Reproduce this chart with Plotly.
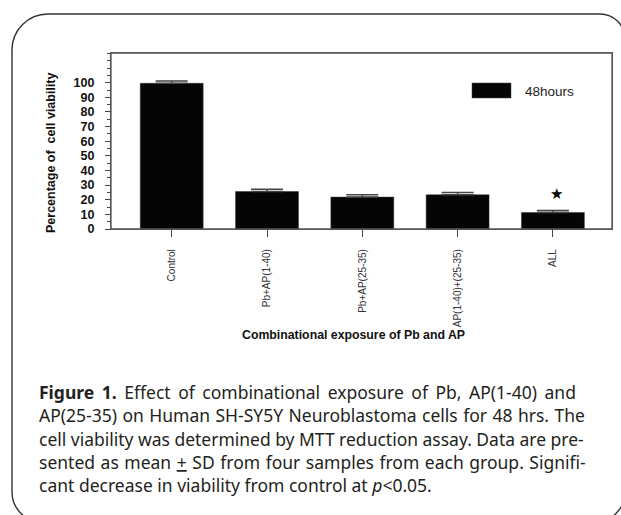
import plotly.graph_objects as go

# ---------------- data ----------------
categories = ["Control", "Pb+AP(1-40)", "Pb+AP(25-35)", "AP(1-40)+(25-35)", "ALL"]
viability = [99.6, 25.6, 21.8, 23.4, 11.3]
sd = [1.5, 1.6, 1.6, 1.6, 1.4]
y_ticks = [0, 10, 20, 30, 40, 50, 60, 70, 80, 90, 100]
series_name = "48hours"
significant = "ALL"
x_title = "Combinational exposure of Pb and AP"
y_title = "Percentage of  cell viability"
caption_lines = [
    "<b>Figure 1.</b> Effect of combinational exposure of Pb, AP(1-40) and",
    "AP(25-35) on Human SH-SY5Y Neuroblastoma cells for 48 hrs. The",
    "cell viability was determined by MTT reduction assay. Data are pre-",
    "sented as mean <u>+</u> SD from four samples from each group. Signifi-",
    "cant decrease in viability from control at <i>p</i>&lt;0.05.",
]
# extra word spacing (px) used to imitate the justified paragraph
caption_word_spacing = [3.0, 0.9, -0.1, 1.0, 0.0]

# ---------------- geometry helpers (pixel -> paper) ----------------
W, H = 621, 515
L, R, T, B = 111, 612, 53, 229


def px(x):
    return (x - L) / (R - L)


def py(y):
    return 1 - (y - T) / (B - T)


def P(x, y):
    return f"{px(x):.5f},{py(y):.5f}"


def rounded_rect(x0, y0, x1, y1, rtl, rtr, rbr, rbl):
    k = 0.5523
    s = f"M {P(x0 + rtl, y0)} L {P(x1 - rtr, y0)} "
    s += f"C {P(x1 - rtr + k * rtr, y0)} {P(x1, y0 + rtr - k * rtr)} {P(x1, y0 + rtr)} "
    s += f"L {P(x1, y1 - rbr)} "
    s += f"C {P(x1, y1 - rbr + k * rbr)} {P(x1 - rbr + k * rbr, y1)} {P(x1 - rbr, y1)} "
    s += f"L {P(x0 + rbl, y1)} "
    s += f"C {P(x0 + rbl - k * rbl, y1)} {P(x0, y1 - rbl + k * rbl)} {P(x0, y1 - rbl)} "
    s += f"L {P(x0, y0 + rtl)} "
    s += f"C {P(x0, y0 + rtl - k * rtl)} {P(x0 + rtl - k * rtl, y0)} {P(x0 + rtl, y0)} Z"
    return s


AX_FONT = "Liberation Sans, Arial, sans-serif"
CAP_FONT = "Noto Sans, Lato, sans-serif"

fig = go.Figure(
    go.Bar(
        x=categories,
        y=viability,
        name=series_name,
        width=0.66,
        marker=dict(color="#050505", line=dict(color="#333333", width=0.5)),
        error_y=dict(
            type="data",
            array=sd,
            arrayminus=[0] * len(sd),
            symmetric=False,
            color="#444444",
            thickness=1.5,
            width=16,
        ),
        showlegend=False,
        hoverinfo="skip",
    )
)

shapes = [
    dict(type="path", xref="paper", yref="paper", path=rounded_rect(12, 14, 625, 522, 36, 25, 30, 30),
         line=dict(color="#333333", width=1.4), fillcolor="rgba(0,0,0,0)", layer="below"),
    # box round the plotting area
    dict(type="rect", xref="paper", yref="paper", x0=0, x1=1, y0=0, y1=1,
         line=dict(color="#555555", width=1.3), fillcolor="rgba(0,0,0,0)", layer="above"),
    # legend swatch
    dict(type="rect", xref="paper", yref="paper", x0=px(472), x1=px(511), y0=py(98), y1=py(83),
         fillcolor="#050505", line=dict(color="#444444", width=0.5)),
]

annotations = [
    dict(text=series_name, xref="paper", yref="paper", x=px(523), y=py(91), xanchor="left", yanchor="middle",
         showarrow=False, font=dict(family=AX_FONT, size=13.5, color="#222222")),
    dict(text="★", xref="x", yref="y", x=significant,
         y=viability[categories.index(significant)] + sd[categories.index(significant)],
         yanchor="middle", yshift=16, xshift=4, showarrow=False,
         font=dict(family="DejaVu Sans", size=15, color="#000000")),
    dict(text=f"<b>{y_title}</b>", xref="paper", yref="paper", x=px(51), y=py(153), textangle=-90,
         xanchor="center", yanchor="middle", showarrow=False, font=dict(family=AX_FONT, size=12.5, color="#111111")),
    dict(text=f"<b>{x_title}</b>", xref="paper", yref="paper", x=px(353), y=py(335),
         xanchor="center", yanchor="middle", showarrow=False, font=dict(family=AX_FONT, size=12.3, color="#111111")),
]

cap_y = [392, 415, 439, 462, 485]
for line, yc, ws in zip(caption_lines, cap_y, caption_word_spacing):
    annotations.append(dict(text=f'<span style="word-spacing:{ws}px">{line}</span>',
                            xref="paper", yref="paper", x=px(37), y=py(yc), xanchor="left",
                            yanchor="middle", showarrow=False,
                            font=dict(family=CAP_FONT, size=17.5, color="#231f20")))

fig.update_layout(
    width=W,
    height=H,
    margin=dict(l=L, r=W - R, t=T, b=H - B, pad=0),
    paper_bgcolor="white",
    plot_bgcolor="white",
    shapes=shapes,
    annotations=annotations,
    xaxis=dict(
        type="category",
        range=[-0.637, 4.62],
        showline=True,
        linecolor="#555555",
        linewidth=1.3,
        mirror=True,
        ticks="outside",
        ticklen=7,
        tickwidth=1.3,
        tickcolor="#444444",
        tickangle=-90,
        ticklabelstandoff=8,
        tickfont=dict(family=AX_FONT, size=10, color="#333333"),
        showgrid=False,
        zeroline=False,
    ),
    yaxis=dict(
        range=[0, 120.3],
        tickvals=y_ticks,
        showline=True,
        linecolor="#555555",
        linewidth=1.3,
        mirror=True,
        ticks="outside",
        ticklen=5,
        tickwidth=1.2,
        tickcolor="#444444",
        minor=dict(dtick=5, ticks="outside", ticklen=3, tickcolor="#444444", showgrid=False),
        ticklabelstandoff=8,
        tickfont=dict(family=AX_FONT, size=12.5, color="#111111", weight="bold"),
        showgrid=False,
        zeroline=False,
    ),
)

fig.write_html(
    "out.html",
    config={"displayModeBar": False},
    post_script="document.body.style.margin='0';document.body.style.overflow='hidden';",
)
